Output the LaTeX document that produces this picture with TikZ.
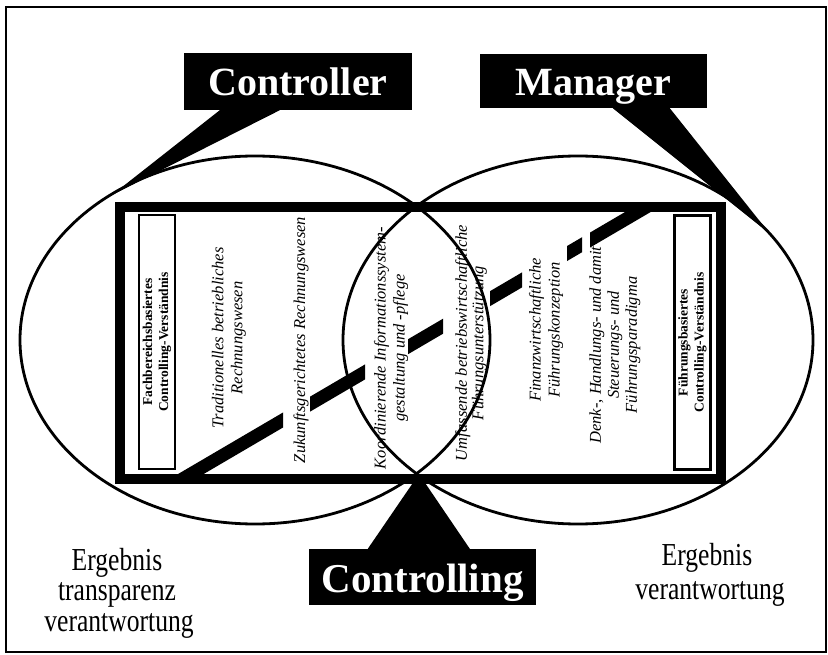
\documentclass[tikz,border=0pt]{standalone}
\usepackage{fontspec}
\setmainfont{Liberation Serif}
\newcommand\narrowtxt[1]{\scalebox{0.8}[1]{#1}}
\begin{document}
\begin{tikzpicture}[x=1pt,y=-1pt,
  title/.style={anchor=base, fill=black, text=white, inner xsep=0pt, inner ysep=0pt, font=\bfseries\fontsize{40}{44}\selectfont},
  col/.style={rotate=90, align=center, inner sep=0pt, font=\itshape\fontsize{16.5}{19}\selectfont},
  vbox/.style={draw, line width=2.5pt, rotate=90, align=center, inner sep=0pt, font=\bfseries\fontsize{13.5}{16}\selectfont},
  ring/.style={line width=2.8pt},
  result/.style={anchor=base, inner sep=0pt, font=\fontsize{32}{32}\selectfont}]
\useasboundingbox (0,0) rectangle (828,655);
% outer frame
\draw[line width=2.2pt] (6,7) rectangle (826,652);
% the two circles
\draw[ring] (255,340) ellipse [x radius=235, y radius=184];
\draw[ring] (578,340) ellipse [x radius=235, y radius=184];
% broken diagonal band
\begin{scope}
  \clip (120,207) rectangle (721,479);
  \clip (160,200) rectangle (283,490) (310,200) rectangle (365,490)
        (408,200) rectangle (443,490) (490,200) rectangle (522,490)
        (567,200) rectangle (582,490) (590,200) rectangle (721,490);
  \fill (160,499.6) -- (700,183.1) -- (700,168.1) -- (160,484.6) -- cycle;
\end{scope}
% thick frame
\draw[line width=10pt] (120,207) rectangle (721,479);
% side boxes
\node[vbox, minimum width=254pt, minimum height=36pt] (fb) at (157,342) {Fachbereichsbasiertes\\Controlling-Verständnis};
\node[vbox, minimum width=254pt, minimum height=36pt] (fu) at (692.5,342.5) {Führungsbasiertes\\Controlling-Verständnis};
% column texts
\node[col] (t1) at (229,338) {Traditionelles betriebliches\\Rechnungswesen};
\node[col] (t2) at (301,340) {Zukunftsgerichtetes Rechnungswesen};
\node[col] (t3) at (391,348) {Koordinierende Informationssystem-\\gestaltung und -pflege};
\node[col, font=\itshape\fontsize{16.5}{16.5}\selectfont] (t4) at (471,343) {Umfassende betriebswirtschaftliche\\Führungsunterstützung};
\node[col] (t5) at (546,330) {Finanzwirtschaftliche\\Führungskonzeption};
\node[col, font=\itshape\fontsize{16.5}{18}\selectfont] (t6) at (615,345) {Denk-, Handlungs- und damit\\Steuerungs- und\\Führungsparadigma};
% title boxes
\node[title, minimum width=228pt, text height=43pt, text depth=14pt] (ctrl) at (298,96) {Controller};
\node[title, minimum width=227pt, text height=42pt, text depth=12pt] (mgr) at (593.5,96) {Manager};
\node[title, minimum width=227pt, text height=43pt, text depth=13pt, font=\bfseries\fontsize{41}{44}\selectfont] (cing) at (422.5,592) {Controlling};
% pointers
\coordinate (ctrltip) at (112,195);
\coordinate (mgrtip) at (770,234);
\coordinate (cingtip) at (419,474);
\fill ([xshift=36pt]ctrl.south west) -- ([xshift=96pt]ctrl.south west) -- (ctrltip) -- cycle;
\fill ([xshift=133pt]mgr.south west) -- ([xshift=190pt]mgr.south west) -- (mgrtip) -- cycle;
\fill ([xshift=59pt]cing.north west) -- ([xshift=161pt]cing.north west) -- (cingtip) -- cycle;
% result texts
\node[result] (e1a) at (117,570) {\narrowtxt{Ergebnis}};
\node[result] (e1b) at (117,600) {\narrowtxt{transparenz}};
\node[result] (e1c) at (119,631) {\narrowtxt{verantwortung}};
\node[result] (e2a) at (707,565) {\narrowtxt{Ergebnis}};
\node[result] (e2b) at (710,599) {\narrowtxt{verantwortung}};
\end{tikzpicture}
\end{document}
